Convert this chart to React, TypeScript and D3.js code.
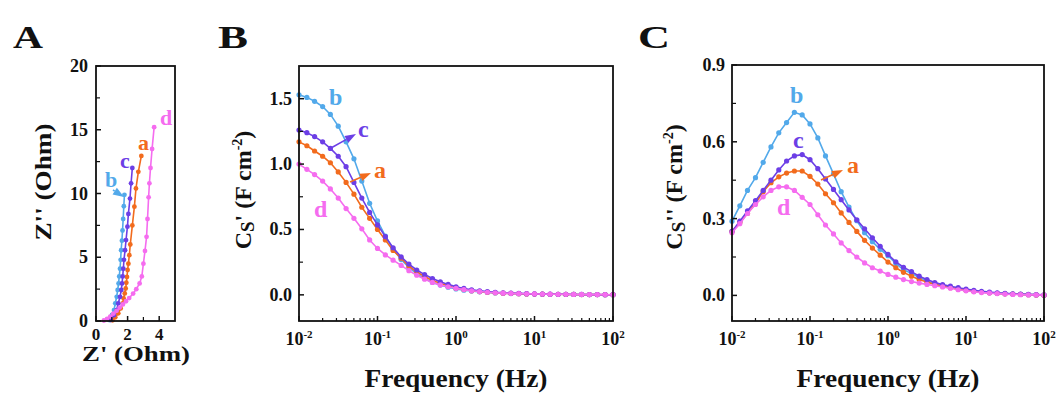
import React from "react";
import * as d3 from "d3";

// ---------- DATA ----------
const FREQ = [0.01,0.0126,0.0158,0.02,0.0251,0.0316,0.0398,0.0501,0.0631,0.0794,0.1,0.126,0.158,0.2,0.251,0.316,0.398,0.501,0.631,0.794,1,1.26,1.58,2,2.51,3.16,3.98,5.01,6.31,7.94,10,12.6,15.8,20,25.1,31.6,39.8,50.1,63.1,79.4,100];

const CSP_A = [1.17,1.14,1.10,1.06,1.01,0.94,0.86,0.77,0.67,0.585,0.50,0.42,0.34,0.28,0.22,0.175,0.14,0.11,0.088,0.068,0.052,0.041,0.032,0.025,0.02,0.016,0.013,0.011,0.009,0.007,0.006,0.005,0.004,0.004,0.003,0.003,0.002,0.002,0.002,0.001,0.001];
const CSP_B = [1.53,1.51,1.48,1.44,1.38,1.29,1.17,1.04,0.87,0.70,0.565,0.45,0.35,0.27,0.21,0.16,0.125,0.095,0.075,0.058,0.045,0.036,0.029,0.023,0.018,0.015,0.012,0.010,0.008,0.007,0.006,0.005,0.004,0.004,0.003,0.003,0.002,0.002,0.002,0.001,0.001];
const CSP_C = [1.26,1.24,1.21,1.17,1.12,1.06,0.98,0.86,0.74,0.63,0.535,0.445,0.36,0.29,0.235,0.19,0.155,0.125,0.10,0.08,0.062,0.049,0.039,0.031,0.025,0.02,0.016,0.013,0.011,0.009,0.007,0.006,0.005,0.004,0.004,0.003,0.003,0.002,0.002,0.001,0.001];
const CSP_D = [1.00,0.96,0.92,0.87,0.81,0.74,0.66,0.585,0.505,0.42,0.355,0.305,0.265,0.225,0.185,0.15,0.12,0.095,0.076,0.062,0.05,0.04,0.031,0.025,0.02,0.016,0.013,0.011,0.009,0.008,0.007,0.006,0.005,0.004,0.004,0.003,0.003,0.002,0.002,0.002,0.001];

const CSPP_A = [0.25,0.285,0.32,0.36,0.405,0.44,0.463,0.478,0.486,0.486,0.465,0.435,0.397,0.362,0.322,0.285,0.25,0.215,0.185,0.157,0.13,0.108,0.09,0.075,0.062,0.052,0.043,0.036,0.03,0.025,0.02,0.016,0.013,0.01,0.008,0.006,0.005,0.004,0.003,0.002,0.001];
const CSPP_B = [0.29,0.35,0.41,0.46,0.52,0.58,0.635,0.675,0.715,0.705,0.67,0.615,0.545,0.475,0.405,0.345,0.292,0.245,0.21,0.18,0.155,0.125,0.10,0.086,0.07,0.056,0.046,0.038,0.031,0.025,0.02,0.016,0.013,0.01,0.008,0.006,0.005,0.004,0.003,0.002,0.001];
const CSPP_C = [0.25,0.29,0.33,0.37,0.41,0.45,0.49,0.525,0.545,0.55,0.53,0.495,0.455,0.414,0.374,0.334,0.295,0.26,0.225,0.192,0.16,0.131,0.11,0.093,0.075,0.062,0.05,0.042,0.036,0.03,0.025,0.02,0.016,0.013,0.01,0.008,0.006,0.005,0.004,0.003,0.002];
const CSPP_D = [0.245,0.28,0.32,0.355,0.385,0.41,0.424,0.424,0.41,0.383,0.355,0.315,0.275,0.24,0.205,0.175,0.15,0.127,0.108,0.095,0.082,0.071,0.062,0.054,0.048,0.043,0.038,0.033,0.028,0.022,0.018,0.014,0.011,0.009,0.007,0.005,0.004,0.003,0.002,0.002,0.001];

// Nyquist [Z', Z'']
const NYQ_A = [[2.87,12.95],[2.68,11.7],[2.53,10.4],[2.43,8.97],[2.3,7.5],[2.17,6.0],[2.11,5.16],[2.05,4.5],[2.0,4.0],[1.96,3.46],[1.92,3.0],[1.88,2.55],[1.82,2.16],[1.75,1.77],[1.69,1.38],[1.56,0.99],[1.41,0.6],[1.22,0.29],[1.05,0.05]];
const NYQ_B = [[1.8,9.9],[1.76,9.0],[1.72,8.0],[1.68,7.1],[1.64,6.3],[1.59,5.55],[1.56,4.8],[1.52,4.1],[1.47,3.5],[1.43,2.95],[1.37,2.43],[1.31,1.9],[1.22,1.39],[1.14,0.86],[1.01,0.47],[0.84,0.08]];
const NYQ_C = [[2.3,12.0],[2.22,10.8],[2.15,9.6],[2.05,8.4],[1.99,7.4],[1.9,6.35],[1.84,5.55],[1.77,4.8],[1.73,4.1],[1.69,3.5],[1.65,2.95],[1.6,2.43],[1.52,1.9],[1.41,1.39],[1.31,0.86],[1.14,0.47],[0.93,0.08]];
const NYQ_D = [[3.68,15.2],[3.55,13.5],[3.45,12.0],[3.38,10.8],[3.33,9.7],[3.26,8.0],[3.2,6.6],[3.1,5.5],[3.0,4.5],[2.9,3.5],[2.76,2.95],[2.55,2.5],[2.35,2.15],[2.1,1.8],[1.9,1.55],[1.7,1.3],[1.5,1.05],[1.3,0.8],[1.1,0.58],[0.9,0.35],[0.7,0.17],[0.5,0.04]];

const X_TICK_EXP = ["-2", "-1", "0", "1", "2"];
const X_TICK_VALS = [0.01, 0.1, 1, 10, 100];
const B_Y_TICKS = [0, 0.5, 1.0, 1.5];
const C_Y_TICKS = [0, 0.3, 0.6, 0.9];
const A_Y_TICKS = [0, 5, 10, 15, 20];
const A_X_TICKS = [0, 2, 4];

const COL = { a: "#f26b1d", b: "#52a9ea", c: "#6c3ee6", d: "#f56cef" };
const FONT = "'Liberation Serif', 'Times New Roman', serif";

// ---------- helpers ----------
function Frame({ x0, x1, y0, y1 }) {
  return <rect x={x0} y={y0} width={x1 - x0} height={y1 - y0} fill="none" stroke="#111" strokeWidth={1.8} />;
}

function Series({ xs, ys, sx, sy, color, r = 2.6 }) {
  const pts = xs.map((x, i) => [sx(x), sy(ys[i])]);
  const line = d3.line()(pts as any);
  return (
    <g>
      <path d={line || ""} fill="none" stroke={color} strokeWidth={1.6} />
      {pts.map((p, i) => (
        <circle key={i} cx={p[0]} cy={p[1]} r={r} fill={color} />
      ))}
    </g>
  );
}

function Arrow({ x1, y1, x2, y2, color }) {
  const ang = Math.atan2(y2 - y1, x2 - x1);
  const L = 11, W = 4;
  const bx = x2 - L * Math.cos(ang), by = y2 - L * Math.sin(ang);
  const px = -Math.sin(ang) * W, py = Math.cos(ang) * W;
  return (
    <g>
      <line x1={x1} y1={y1} x2={bx} y2={by} stroke={color} strokeWidth={1.6} />
      <polygon points={`${x2},${y2} ${bx + px},${by + py} ${bx - px},${by - py}`} fill={color} />
    </g>
  );
}

function Lbl({ x, y, t, color, size = 24 }) {
  return (
    <text x={x} y={y} fill={color} fontFamily={FONT} fontWeight="bold" fontSize={size}>{t}</text>
  );
}

function LogPanel({ x0, x1, y0, y1, yDomain, yTicks, yMinor, series, fmt }) {
  const sx = d3.scaleLog().domain([0.01, 100]).range([x0, x1]);
  const sy = d3.scaleLinear().domain(yDomain).range([y1, y0]);
  const minor = [];
  for (const dec of [0.01, 0.1, 1, 10]) for (let k = 2; k <= 9; k++) minor.push(dec * k);
  return (
    <g>
      {series.map((s, i) => (
        <Series key={i} xs={FREQ} ys={s.v} sx={sx} sy={sy} color={s.c} />
      ))}
      <Frame x0={x0} x1={x1} y0={y0} y1={y1} />
      {X_TICK_VALS.map((v) => (
        <line key={"xt" + v} x1={sx(v)} x2={sx(v)} y1={y1} y2={y1 - 5} stroke="#111" strokeWidth={1.5} />
      ))}
      {minor.map((v) => (
        <line key={"xm" + v} x1={sx(v)} x2={sx(v)} y1={y1} y2={y1 - 3} stroke="#111" strokeWidth={1.2} />
      ))}
      {X_TICK_VALS.map((v, i) => (
        <text key={"xl" + v} x={sx(v)} y={345} textAnchor="middle" fontFamily={FONT} fontWeight="bold" fontSize={18} fill="#111">
          10<tspan fontSize={11} dy={-7}>{X_TICK_EXP[i]}</tspan>
        </text>
      ))}
      {yTicks.map((v) => (
        <g key={"yt" + v}>
          <line x1={x0} x2={x0 + 5} y1={sy(v)} y2={sy(v)} stroke="#111" strokeWidth={1.5} />
          <text x={x0 - 7} y={sy(v) + 6} textAnchor="end" fontFamily={FONT} fontWeight="bold" fontSize={18} fill="#111">{fmt(v)}</text>
        </g>
      ))}
      {yMinor.map((v) => (
        <line key={"ym" + v} x1={x0} x2={x0 + 4} y1={sy(v)} y2={sy(v)} stroke="#111" strokeWidth={1.2} />
      ))}
      <text x={(x0 + x1) / 2} y={387} textAnchor="middle" fontFamily={FONT} fontWeight="bold" fontSize={25} textLength={183} lengthAdjust="spacingAndGlyphs" fill="#111">Frequency (Hz)</text>
    </g>
  );
}

export default function App() {
  const ax0 = 96, ax1 = 175, ay0 = 66, ay1 = 321;
  const asx = d3.scaleLinear().domain([0, 5]).range([ax0, ax1]);
  const asy = d3.scaleLinear().domain([0, 20]).range([ay1, ay0]);
  const nyq = [
    { d: NYQ_B, c: COL.b },
    { d: NYQ_A, c: COL.a },
    { d: NYQ_C, c: COL.c },
    { d: NYQ_D, c: COL.d },
  ];

  const f1 = d3.format(".1f");

  return (
    <svg width={1058} height={394} style={{ position: "absolute", left: 0, top: 0, background: "#fff" }}>
      <rect x={0} y={0} width={1058} height={394} fill="#fff" />
      <text x={13} y={48} fontFamily={FONT} fontWeight="bold" fontSize={31} textLength={30} lengthAdjust="spacingAndGlyphs" fill="#111">A</text>
      <text x={218} y={48} fontFamily={FONT} fontWeight="bold" fontSize={31} textLength={30} lengthAdjust="spacingAndGlyphs" fill="#111">B</text>
      <text x={638} y={48} fontFamily={FONT} fontWeight="bold" fontSize={31} textLength={32} lengthAdjust="spacingAndGlyphs" fill="#111">C</text>

      {/* Panel A */}
      <g>
        {nyq.map((s, i) => (
          <Series key={i} xs={s.d.map((p) => p[0])} ys={s.d.map((p) => p[1])} sx={asx} sy={asy} color={s.c} r={2.4} />
        ))}
        <Frame x0={ax0} x1={ax1} y0={ay0} y1={ay1} />
        {A_Y_TICKS.map((v) => (
          <g key={"ay" + v}>
            <line x1={ax0} x2={ax0 + 5} y1={asy(v)} y2={asy(v)} stroke="#111" strokeWidth={1.5} />
            <text x={ax0 - 8} y={asy(v) + 6} textAnchor="end" fontFamily={FONT} fontWeight="bold" fontSize={18} fill="#111">{v}</text>
          </g>
        ))}
        {[2.5, 7.5, 12.5, 17.5].map((v) => (
          <line key={"aym" + v} x1={ax0} x2={ax0 + 4} y1={asy(v)} y2={asy(v)} stroke="#111" strokeWidth={1.2} />
        ))}
        {A_X_TICKS.map((v) => (
          <g key={"ax" + v}>
            <line x1={asx(v)} x2={asx(v)} y1={ay1} y2={ay1 - 5} stroke="#111" strokeWidth={1.5} />
            <text x={asx(v)} y={340} textAnchor="middle" fontFamily={FONT} fontWeight="bold" fontSize={17} fill="#111">{v}</text>
          </g>
        ))}
        {[1, 3].map((v) => (
          <line key={"axm" + v} x1={asx(v)} x2={asx(v)} y1={ay1} y2={ay1 - 4} stroke="#111" strokeWidth={1.2} />
        ))}
        <text x={136} y={361} textAnchor="middle" fontFamily={FONT} fontWeight="bold" fontSize={21} textLength={108} lengthAdjust="spacingAndGlyphs" fill="#111">Z' (Ohm)</text>
        <text transform="translate(51,182) rotate(-90)" textAnchor="middle" fontFamily={FONT} fontWeight="bold" fontSize={24} textLength={117} lengthAdjust="spacingAndGlyphs" fill="#111">Z'' (Ohm)</text>
        <Lbl x={105} y={187} t="b" color={COL.b} size={22} />
        <Arrow x1={113} y1={190} x2={124} y2={197} color={COL.b} />
        <Lbl x={120} y={168} t="c" color={COL.c} size={22} />
        <Lbl x={138} y={150} t="a" color={COL.a} size={22} />
        <Lbl x={160} y={125} t="d" color={COL.d} size={22} />
      </g>

      {/* Panel B */}
      <LogPanel
        x0={299} x1={613} y0={66} y1={321}
        yDomain={[-0.2, 1.75]}
        yTicks={B_Y_TICKS}
        yMinor={[0.25, 0.75, 1.25]}
        fmt={f1}
        series={[
          { v: CSP_B, c: COL.b },
          { v: CSP_A, c: COL.a },
          { v: CSP_C, c: COL.c },
          { v: CSP_D, c: COL.d },
        ]}
      />
      <text transform="translate(251,190) rotate(-90)" textAnchor="middle" fontFamily={FONT} fontWeight="bold" fontSize={24} fill="#111">
        C<tspan fontSize={19} dy={3}>S</tspan><tspan dy={-3}>' (F cm</tspan><tspan fontSize={14} dy={-9}>-2</tspan><tspan dy={9}>)</tspan>
      </text>
      <Lbl x={329} y={105} t="b" color={COL.b} />
      <Lbl x={358} y={137} t="c" color={COL.c} />
      <Arrow x1={331} y1={148} x2={356} y2={134} color={COL.c} />
      <Lbl x={374} y={178} t="a" color={COL.a} />
      <Arrow x1={350} y1={182} x2={371} y2={173} color={COL.a} />
      <Lbl x={314} y={217} t="d" color={COL.d} />

      {/* Panel C */}
      <LogPanel
        x0={732} x1={1044} y0={65} y1={321}
        yDomain={[-0.1, 0.9]}
        yTicks={C_Y_TICKS}
        yMinor={[0.15, 0.45, 0.75]}
        fmt={f1}
        series={[
          { v: CSPP_B, c: COL.b },
          { v: CSPP_A, c: COL.a },
          { v: CSPP_C, c: COL.c },
          { v: CSPP_D, c: COL.d },
        ]}
      />
      <text transform="translate(682,187) rotate(-90)" textAnchor="middle" fontFamily={FONT} fontWeight="bold" fontSize={24} fill="#111">
        C<tspan fontSize={19} dy={3}>S</tspan><tspan dy={-3}>'' (F cm</tspan><tspan fontSize={14} dy={-9}>-2</tspan><tspan dy={9}>)</tspan>
      </text>
      <Lbl x={790} y={103} t="b" color={COL.b} />
      <Lbl x={793} y={148} t="c" color={COL.c} />
      <Lbl x={847} y={173} t="a" color={COL.a} />
      <Arrow x1={821} y1={180} x2={843} y2={170} color={COL.a} />
      <Lbl x={777} y={215} t="d" color={COL.d} />
    </svg>
  );
}
